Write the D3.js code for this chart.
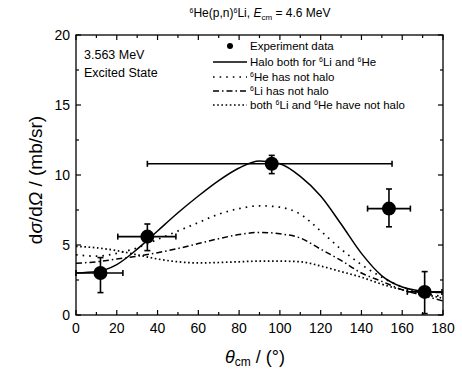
<!DOCTYPE html>
<html>
<head>
<meta charset="utf-8">
<script src="https://cdn.jsdelivr.net/npm/d3@7"></script>
<style>
  body { margin: 0; background: #fff; }
  text { font-family: "Liberation Sans", Arial, sans-serif; fill: #000; }
</style>
</head>
<body>
<svg id="chart" width="462" height="370"></svg>
<script>
// angles (deg) for the model curves
const angles = [0, 10, 20, 30, 40, 50, 60, 70, 80, 90, 100, 110, 120, 130, 140, 150, 160, 170, 180];
const haloBoth   = [3.0, 3.1, 3.6, 4.7, 6.0, 7.3, 8.5, 9.6, 10.5, 11.0, 10.8, 9.9, 8.5, 6.5, 4.4, 2.8, 2.0, 1.7, 1.6];
const heNoHalo   = [4.3, 4.2, 4.4, 4.8, 5.4, 6.0, 6.6, 7.2, 7.6, 7.8, 7.7, 7.2, 6.0, 4.7, 3.6, 2.7, 2.0, 1.6, 1.3];
const liNoHalo   = [3.7, 3.8, 4.0, 4.2, 4.45, 4.75, 5.1, 5.45, 5.75, 5.9, 5.8, 5.5, 4.7, 3.9, 3.0, 2.4, 1.8, 1.4, 1.0];
const bothNoHalo = [4.9, 4.8, 4.6, 4.3, 4.0, 3.8, 3.72, 3.75, 3.8, 3.85, 3.85, 3.8, 3.5, 3.1, 2.7, 2.2, 1.8, 1.5, 1.2];

// experiment points
const expAngle = [12, 35, 96, 153.5, 171];
const expValue = [3.0, 5.6, 10.8, 7.6, 1.65];
const expXLo   = [0, 20.5, 35, 143, 162.5];
const expXHi   = [23, 49, 155, 164, 179.5];
const expYLo   = [1.6, 4.6, 10.1, 6.3, 0.1];
const expYHi   = [4.1, 6.5, 11.4, 9.0, 3.1];

const xTicks = [0, 20, 40, 60, 80, 100, 120, 140, 160, 180];
const yTicks = [0, 5, 10, 15, 20];

const svg = d3.select("#chart");
const margin = {left: 76, right: 19, top: 35, bottom: 55};
const W = 462, H = 370;

const x = d3.scaleLinear().domain([0, 180]).range([margin.left, W - margin.right]);
const y = d3.scaleLinear().domain([0, 20]).range([H - margin.bottom, margin.top]);

// frame
svg.append("rect")
  .attr("x", x(0)).attr("y", y(20))
  .attr("width", x(180) - x(0)).attr("height", y(0) - y(20))
  .attr("fill", "none").attr("stroke", "#000").attr("stroke-width", 1.3);

// ticks, inward on all four sides
const minorX = d3.range(10, 180, 20);
const minorY = d3.range(2.5, 20, 5);
function tickLines(vals, len, horiz) {
  vals.forEach(v => {
    if (horiz) {
      svg.append("line").attr("x1", x(v)).attr("x2", x(v)).attr("y1", y(0)).attr("y2", y(0) - len).attr("stroke", "#000").attr("stroke-width", 1.2);
      svg.append("line").attr("x1", x(v)).attr("x2", x(v)).attr("y1", y(20)).attr("y2", y(20) + len).attr("stroke", "#000").attr("stroke-width", 1.2);
    } else {
      svg.append("line").attr("y1", y(v)).attr("y2", y(v)).attr("x1", x(0)).attr("x2", x(0) + len).attr("stroke", "#000").attr("stroke-width", 1.2);
      svg.append("line").attr("y1", y(v)).attr("y2", y(v)).attr("x1", x(180)).attr("x2", x(180) - len).attr("stroke", "#000").attr("stroke-width", 1.2);
    }
  });
}
tickLines(xTicks, 5, true);
tickLines(minorX, 3, true);
tickLines(yTicks, 5, false);
tickLines(minorY, 3, false);

// tick labels
svg.selectAll(".xl").data(xTicks).enter().append("text")
  .attr("x", d => x(d)).attr("y", y(0) + 18)
  .attr("text-anchor", "middle").attr("font-size", 14).text(d => d);
svg.selectAll(".yl").data(yTicks).enter().append("text")
  .attr("x", x(0) - 6).attr("y", d => y(d) + 5)
  .attr("text-anchor", "end").attr("font-size", 14).text(d => d);

// curves
const line = d3.line().x((d, i) => x(angles[i])).y(d => y(d)).curve(d3.curveMonotoneX);
const styles = [
  {data: haloBoth, dash: null, w: 1.5},
  {data: heNoHalo, dash: "1.6,5", w: 1.7},
  {data: liNoHalo, dash: "6,3,1.5,3", w: 1.5},
  {data: bothNoHalo, dash: "1.6,2.6", w: 1.7}
];
styles.forEach(s => {
  svg.append("path").attr("d", line(s.data))
    .attr("fill", "none").attr("stroke", "#000")
    .attr("stroke-width", s.w)
    .attr("stroke-dasharray", s.dash);
});

// error bars + points
expAngle.forEach((a, i) => {
  const g = svg.append("g").attr("stroke", "#000").attr("stroke-width", 1.6);
  g.append("line").attr("x1", x(expXLo[i])).attr("x2", x(expXHi[i])).attr("y1", y(expValue[i])).attr("y2", y(expValue[i]));
  g.append("line").attr("x1", x(expXLo[i])).attr("x2", x(expXLo[i])).attr("y1", y(expValue[i]) - 3).attr("y2", y(expValue[i]) + 3);
  g.append("line").attr("x1", x(expXHi[i])).attr("x2", x(expXHi[i])).attr("y1", y(expValue[i]) - 3).attr("y2", y(expValue[i]) + 3);
  g.append("line").attr("x1", x(a)).attr("x2", x(a)).attr("y1", y(expYLo[i])).attr("y2", y(expYHi[i]));
  g.append("line").attr("x1", x(a) - 3).attr("x2", x(a) + 3).attr("y1", y(expYLo[i])).attr("y2", y(expYLo[i]));
  g.append("line").attr("x1", x(a) - 3).attr("x2", x(a) + 3).attr("y1", y(expYHi[i])).attr("y2", y(expYHi[i]));
  svg.append("circle").attr("cx", x(a)).attr("cy", y(expValue[i])).attr("r", 7).attr("fill", "#000");
});

// legend
const legend = svg.append("g");
const lx = 213, lx2 = 247, ltx = 250;
legend.append("circle").attr("cx", 230).attr("cy", 46).attr("r", 3).attr("fill", "#000");
function legText(yy, parts) {
  const t = legend.append("text").attr("x", ltx).attr("y", yy).attr("font-size", 11.5);
  parts.forEach(p => {
    if (p.sup) t.append("tspan").attr("font-size", 7).attr("dy", -4).text(p.t);
    else t.append("tspan").attr("dy", p.after ? 4 : 0).text(p.t);
  });
}
legText(50, [{t: "Experiment data"}]);
const legendRows = [
  {yy: 62, s: styles[0], parts: [{t: "Halo both for "}, {t: "6", sup: true}, {t: "Li and ", after: true}, {t: "6", sup: true}, {t: "He", after: true}]},
  {yy: 77, s: styles[1], parts: [{t: "6", sup: true}, {t: "He has not halo", after: true}]},
  {yy: 91, s: styles[2], parts: [{t: "6", sup: true}, {t: "Li has not halo", after: true}]},
  {yy: 105, s: styles[3], parts: [{t: "both "}, {t: "6", sup: true}, {t: "Li and ", after: true}, {t: "6", sup: true}, {t: "He have not halo", after: true}]}
];
legendRows.forEach(r => {
  legend.append("line").attr("x1", lx).attr("x2", lx2).attr("y1", r.yy).attr("y2", r.yy)
    .attr("stroke", "#000").attr("stroke-width", r.s.w).attr("stroke-dasharray", r.s.dash);
  legText(r.yy + 4, r.parts);
});

// state label
svg.append("text").attr("x", 84).attr("y", 59).attr("font-size", 12.5).text("3.563 MeV");
svg.append("text").attr("x", 84).attr("y", 77).attr("font-size", 12.5).text("Excited State");

// title
const title = svg.append("text").attr("x", 260).attr("y", 17).attr("text-anchor", "middle").attr("font-size", 12);
title.append("tspan").attr("font-size", 7).attr("dy", -4).text("6");
title.append("tspan").attr("dy", 4).text("He(p,n)");
title.append("tspan").attr("font-size", 7).attr("dy", -4).text("6");
title.append("tspan").attr("dy", 4).text("Li,  ");
title.append("tspan").attr("font-style", "italic").text("E");
title.append("tspan").attr("font-size", 8).attr("dy", 3).text("cm");
title.append("tspan").attr("dy", -3).text(" = 4.6 MeV");

// axis titles
const xt = svg.append("text").attr("x", 255).attr("y", 363).attr("text-anchor", "middle").attr("font-size", 18);
xt.append("tspan").attr("font-style", "italic").text("θ");
xt.append("tspan").attr("font-size", 12).attr("dy", 3).text("cm");
xt.append("tspan").attr("dy", -3).text(" / (°)");

const yt = svg.append("text").attr("transform", "translate(42,180) rotate(-90)")
  .attr("text-anchor", "middle").attr("font-size", 19);
yt.append("tspan").text("d");
yt.append("tspan").attr("font-style", "italic").text("σ");
yt.append("tspan").text("/d");
yt.append("tspan").attr("font-style", "italic").text("Ω");
yt.append("tspan").text(" / (mb/sr)");
</script>
</body>
</html>
